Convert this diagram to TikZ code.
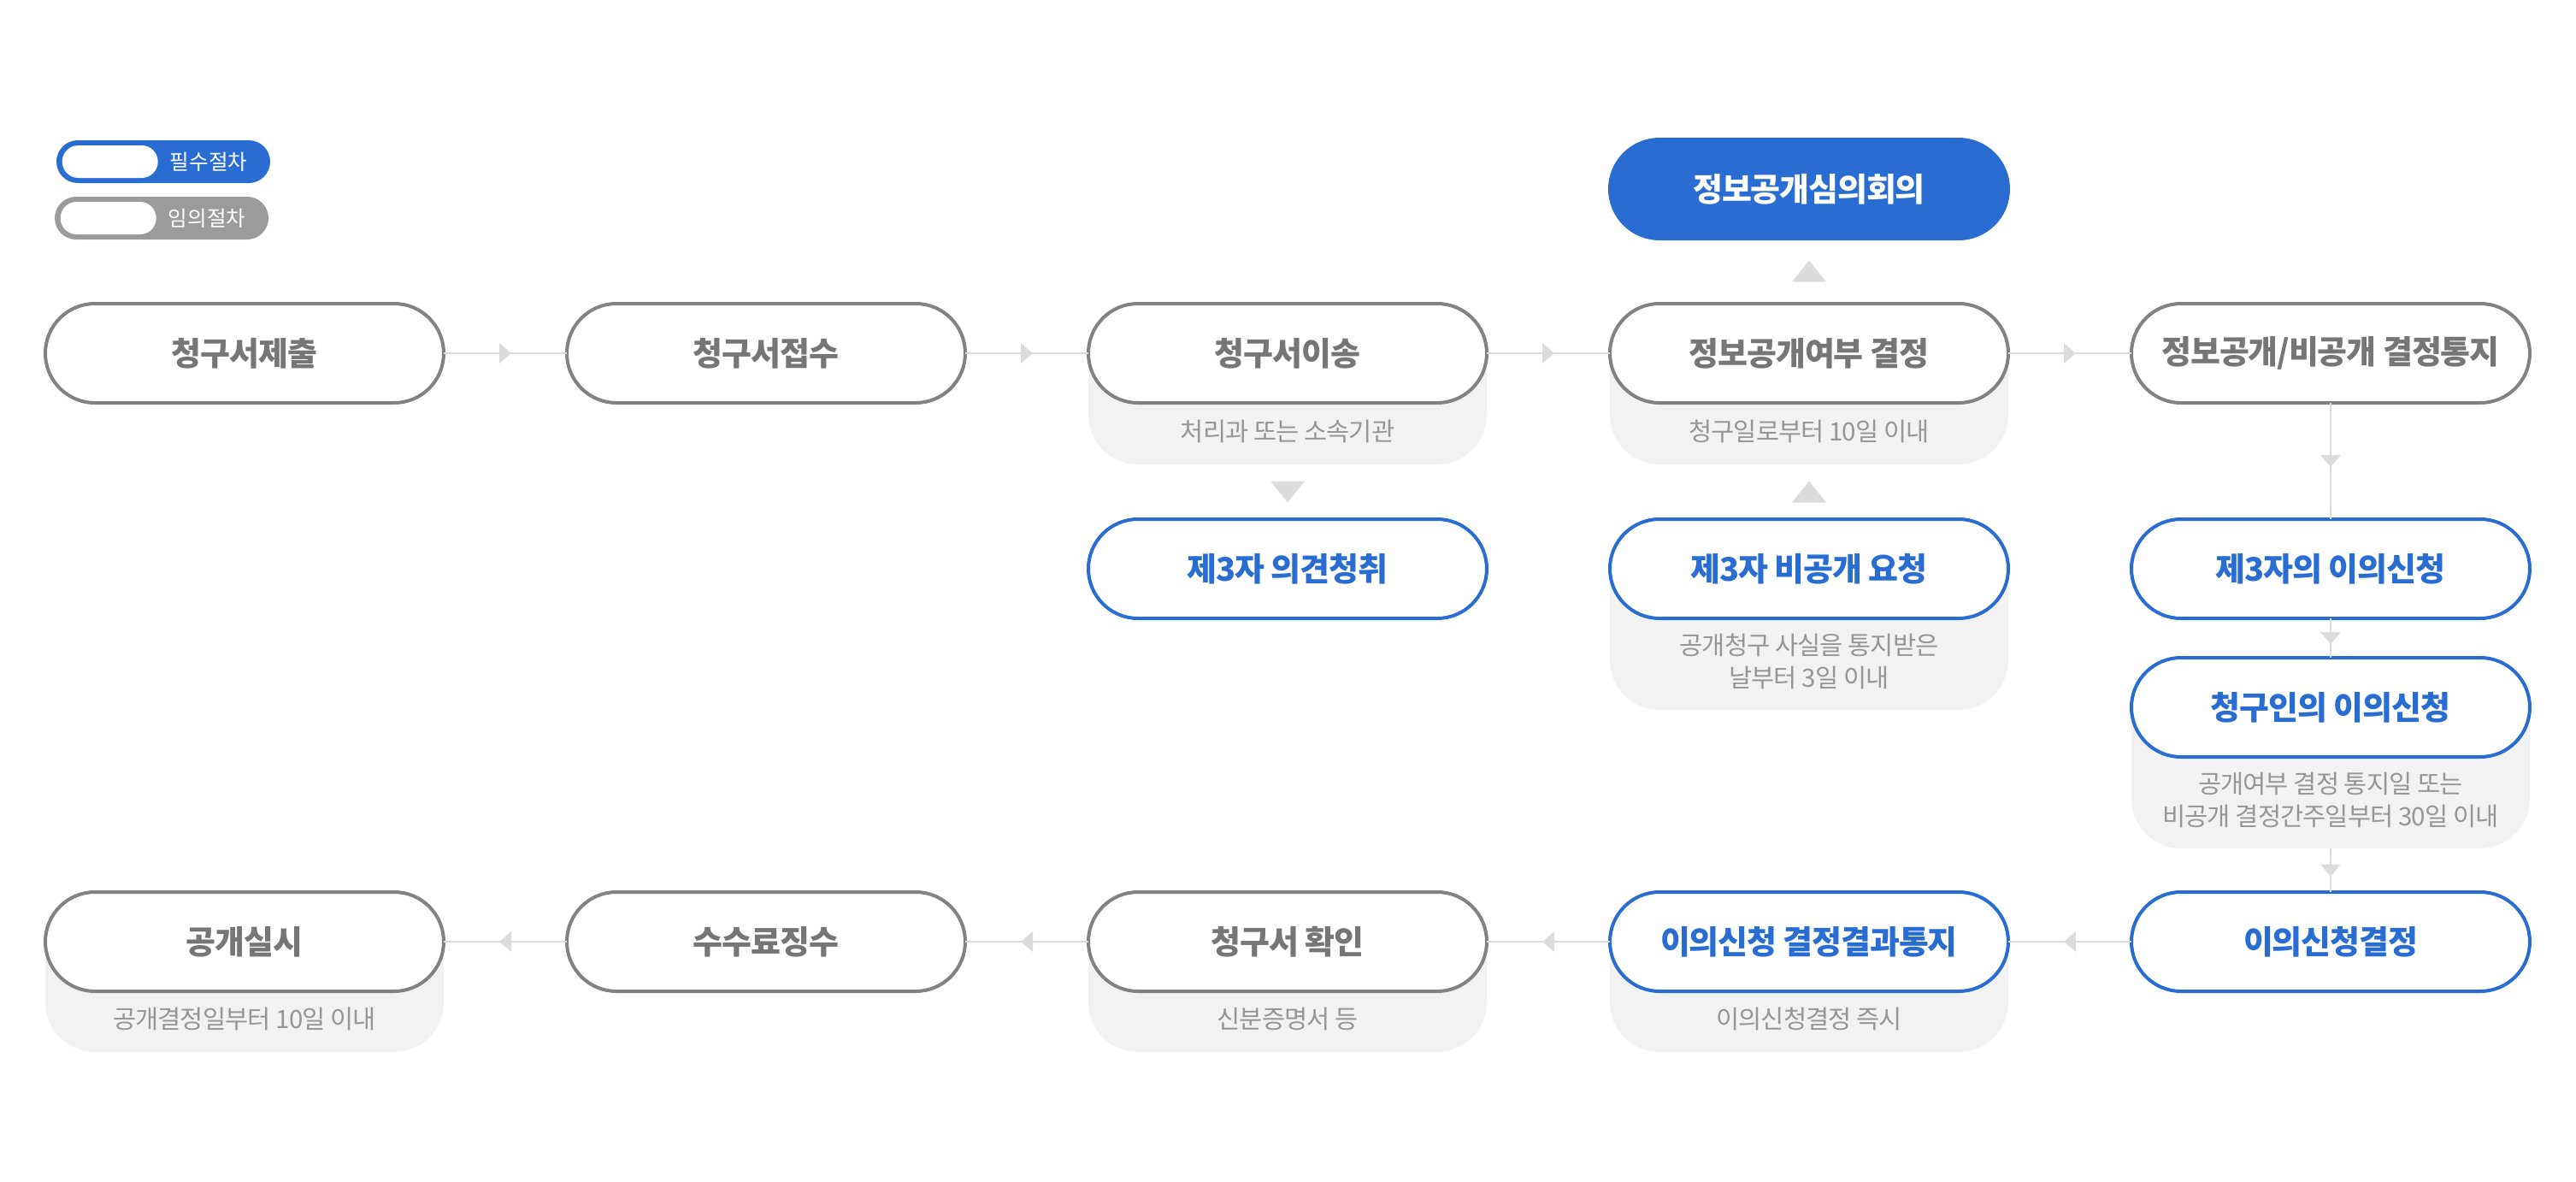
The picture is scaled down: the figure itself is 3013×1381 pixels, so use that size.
\documentclass[tikz,border=0pt]{standalone}
\usepackage{fontspec}
\setmainfont{Noto Sans CJK KR}
\usetikzlibrary{positioning, backgrounds, calc, decorations.markings}
\definecolor{procblue}{HTML}{2A6DD2}
\definecolor{procgray}{HTML}{828282}
\definecolor{proctext}{HTML}{767676}
\definecolor{notefill}{HTML}{F2F2F2}
\definecolor{notetext}{HTML}{969696}
\definecolor{flowgray}{HTML}{DCDCDC}
\definecolor{legendgray}{HTML}{9B9B9B}
\tikzstyle{proc-base} = [rectangle, rounded corners=5.8mm, minimum width=46.6mm,
 minimum height=11.6mm, text centered, line width=0.4mm, fill=white, outer sep=0,
 inner sep=0, node distance=14.4mm,
 font=\fontsize{10.8pt}{13pt}\selectfont\bfseries\addfontfeature{LetterSpace=-3}]
\tikzstyle{proc-optional} = [proc-base, draw=procgray, text=proctext]
\tikzstyle{proc-required} = [proc-base, draw=procblue, text=procblue]
\tikzstyle{proc-board} = [proc-base, draw=procblue, fill=procblue, text=white]
\tikzstyle{proc-note} = [rectangle, rounded corners=5.8mm, minimum width=46.6mm,
 fill=notefill, outer sep=0, inner sep=0]
\tikzstyle{note-text} = [text=notetext, align=center, inner sep=0,
 font=\fontsize{8.4pt}{10.6pt}\selectfont\addfontfeature{LetterSpace=-3}]
\tikzstyle{flow} = [draw=flowgray, line width=0.2mm, postaction={decorate},
 decoration={markings, mark=at position 0.5 with {\fill[flowgray] (-0.7mm,-1.2mm) -- (0.7mm,0) -- (-0.7mm,1.2mm) -- cycle;}}]
\tikzstyle{gap-tip} = [decorate,
 decoration={markings, mark=at position 0.5 with {\fill[flowgray] (-1.25mm,-2mm) -- (1.25mm,0) -- (-1.25mm,2mm) -- cycle;}}]
\tikzstyle{legend-pill} = [rectangle, rounded corners=2.4mm, minimum width=24.8mm,
 minimum height=4.8mm, inner sep=0, outer sep=0]
\tikzstyle{legend-inner} = [rectangle, rounded corners=1.9mm, fill=white,
 minimum width=11.2mm, minimum height=3.8mm, inner sep=0]
\tikzstyle{legend-label} = [text=white, inner sep=0, font=\fontsize{7pt}{8pt}\selectfont]
\newcommand{\ProcNote}[3]{%
    \begin{scope}[on background layer]
    \node (#1note) [proc-note, minimum height=#2, below=0pt of #1.north] {};
    \end{scope}
    \node (#1text) [note-text] at ($(#1.south)!0.5!(#1note.south)+(0,0.3mm)$) {#3};
}
\newcommand{\LegendItem}[4]{%
    \node (#1) [legend-pill, fill=#2] at #3 {};
    \node (#1blank) [legend-inner, anchor=west] at ([xshift=0.5mm]#1.west) {};
    \node (#1label) [legend-label] at ([xshift=-7.1mm]#1.east) {#4};
}

\begin{document}
\begin{tikzpicture}[x=0.1mm, y=-0.1mm]
\useasboundingbox (0,0) rectangle (3013,1381);

% Legend
\LegendItem{LEGEND_REQUIRED}{procblue}{(191,189)}{필수절차}
\LegendItem{LEGEND_OPTIONAL}{legendgray}{(189,255)}{임의절차}
\draw[procblue, line width=0.2mm, rounded corners=2.4mm] (LEGEND_REQUIRED.south west) rectangle (LEGEND_REQUIRED.north east);
\draw[legendgray, line width=0.2mm, rounded corners=2.4mm] (LEGEND_OPTIONAL.south west) rectangle (LEGEND_OPTIONAL.north east);

% First row
\node (REQ_SUBMIT) [proc-optional] at (286,413) {청구서제출};
\node (REQ_RECEIVE) [proc-optional, right=of REQ_SUBMIT] {청구서접수};
\node (REQ_TRANSFER) [proc-optional, right=of REQ_RECEIVE] {청구서이송};
\node (OPEN_DECISION) [proc-optional, right=of REQ_TRANSFER] {정보공개여부 결정};
\node (DECISION_NOTICE) [proc-optional, right=of OPEN_DECISION] {정보공개/비공개 결정통지};

\node (REVIEW_BOARD) [proc-board, above=7.6mm of OPEN_DECISION] {정보공개심의회의};

\ProcNote{REQ_TRANSFER}{18.8mm}{처리과 또는 소속기관}
\ProcNote{OPEN_DECISION}{18.8mm}{청구일로부터 10일 이내}

% Third party
\node (THIRD_OPINION) [proc-required, below=13.6mm of REQ_TRANSFER] {제3자 의견청취};
\node (THIRD_REQUEST) [proc-required, below=13.6mm of OPEN_DECISION] {제3자 비공개 요청};
\ProcNote{THIRD_REQUEST}{22.3mm}{공개청구 사실을 통지받은\\날부터 3일 이내}

% Objections
\node (THIRD_OBJECTION) [proc-required, below=13.6mm of DECISION_NOTICE] {제3자의 이의신청};
\node (CLAIM_OBJECTION) [proc-required, below=4.6mm of THIRD_OBJECTION] {청구인의 이의신청};
\ProcNote{CLAIM_OBJECTION}{22.3mm}{공개여부 결정 통지일 또는\\비공개 결정간주일부터 30일 이내}

% Last row
\node (OBJ_DECISION) [proc-required, below=5.1mm of CLAIM_OBJECTIONnote] {이의신청결정};
\node (OBJ_RESULT) [proc-required, left=of OBJ_DECISION] {이의신청 결정결과통지};
\node (REQ_CHECK) [proc-optional, left=of OBJ_RESULT] {청구서 확인};
\node (FEE_COLLECT) [proc-optional, left=of REQ_CHECK] {수수료징수};
\node (OPEN_EXEC) [proc-optional, left=of FEE_COLLECT] {공개실시};

\ProcNote{OBJ_RESULT}{18.7mm}{이의신청결정 즉시}
\ProcNote{REQ_CHECK}{18.7mm}{신분증명서 등}
\ProcNote{OPEN_EXEC}{18.7mm}{공개결정일부터 10일 이내}

% Flow arrows
\draw[flow] (REQ_SUBMIT) -- (REQ_RECEIVE);
\draw[flow] (REQ_RECEIVE) -- (REQ_TRANSFER);
\draw[flow] (REQ_TRANSFER) -- (OPEN_DECISION);
\draw[flow] (OPEN_DECISION) -- (DECISION_NOTICE);

\draw[flow] (DECISION_NOTICE) -- (THIRD_OBJECTION);
\draw[flow] (THIRD_OBJECTION) -- (CLAIM_OBJECTION);
\draw[flow] (CLAIM_OBJECTIONnote.south) -- (OBJ_DECISION);

\draw[flow] (OBJ_DECISION) -- (OBJ_RESULT);
\draw[flow] (OBJ_RESULT) -- (REQ_CHECK);
\draw[flow] (REQ_CHECK) -- (FEE_COLLECT);
\draw[flow] (FEE_COLLECT) -- (OPEN_EXEC);

% Free-standing tips
\path[gap-tip] (OPEN_DECISION.north) -- (REVIEW_BOARD.south);
\path[gap-tip] (REQ_TRANSFERnote.south) -- (THIRD_OPINION.north);
\path[gap-tip] (THIRD_REQUEST.north) -- (OPEN_DECISIONnote.south);

\end{tikzpicture}
\end{document}
